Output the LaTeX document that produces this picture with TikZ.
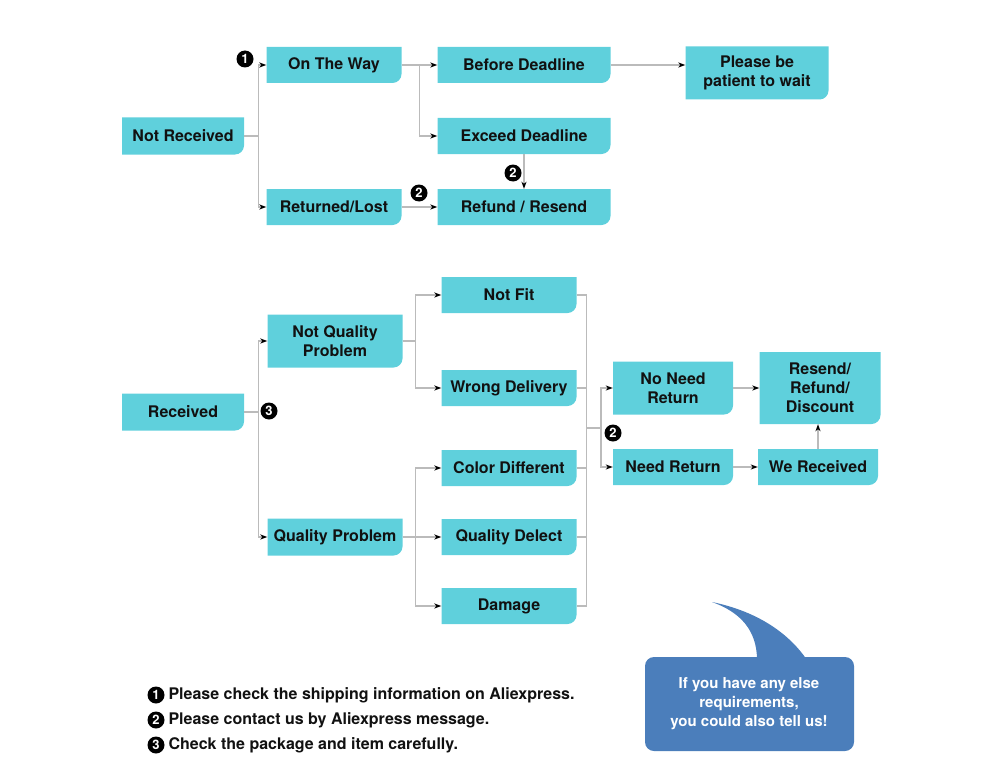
\documentclass[tikz,border=0pt]{standalone}
\usepackage{fontspec}
\setmainfont{TeX Gyre Heros}
\usetikzlibrary{arrows.meta}
\definecolor{boxcyan}{HTML}{5FD0DC}
\definecolor{bubbleblue}{HTML}{4B7EBB}
\definecolor{linegray}{HTML}{BBBBBB}
\definecolor{inkblack}{HTML}{111111}
\tikzset{
  box/.style={minimum width=135pt, minimum height=36pt, inner sep=0pt, align=center,
    text=inkblack, font=\fontsize{16}{19}\selectfont\bfseries,
    path picture={\fill[boxcyan] (path picture bounding box.north west)
      -- (path picture bounding box.north east)
      -- ([yshift=9pt]path picture bounding box.south east)
      arc[start angle=0,end angle=-90,radius=9pt]
      -- (path picture bounding box.south west) -- cycle;}},
  link/.style={draw=linegray, line width=1.1pt},
  arr/.style={link, -{Stealth[color=black,length=7pt,width=5pt,inset=2pt]}},
  badge/.style={circle, fill=black, text=white, inner sep=0pt, minimum size=17pt,
    font=\fontsize{13}{13}\selectfont\bfseries},
  note/.style={anchor=west, text=inkblack, font=\fontsize{16}{19}\selectfont\bfseries},
}
\begin{document}
\begin{tikzpicture}[x=1pt,y=-1pt]
        \useasboundingbox (0,0) rectangle (1000,781);
        %% Not received
        \node[box, minimum width=122pt, minimum height=37pt] (nr) at (183,136) {Not Received};
        \node[box] (otw) at (334,65) {On The Way};
        \node[box] (rl) at (334,207) {Returned/Lost};
        \node[box, minimum width=173pt] (bd) at (524,65) {Before Deadline};
        \node[box, minimum width=173pt] (ed) at (524,136) {Exceed Deadline};
        \node[box, minimum width=173pt] (rr) at (524,207) {Refund / Resend};
        \node[box, minimum width=143pt, minimum height=53pt] (pw) at (757,73) {Please be\\patient to wait};
        \draw[arr] (nr.east) -- ++(14,0) |- (otw.west);
        \draw[arr] (nr.east) -- ++(14,0) |- (rl.west);
        \draw[arr] (otw.east) -- ++(18,0) |- (bd.west);
        \draw[arr] (otw.east) -- ++(18,0) |- (ed.west);
        \draw[arr] (bd.east) -- (bd.east -| pw.west);
        \draw[arr] (ed.south) -- (rr.north);
        \draw[arr] (rl.east) -- (rr.west);
        \node[badge] (b1) at (245,59) {1};
        \node[badge] (b2a) at (419,193) {2};
        \node[badge] (b2b) at (513,173) {2};
        %% Received
        \node[box, minimum width=122pt, minimum height=37pt] (rc) at (183,412) {Received};
        \node[box, minimum height=53pt] (nqp) at (335,341) {Not Quality\\Problem};
        \node[box, minimum height=37pt] (qp) at (335,537) {Quality Problem};
        \node[box] (nf) at (509,295) {Not Fit};
        \node[box] (wd) at (509,388) {Wrong Delivery};
        \node[box] (cd) at (509,468) {Color Different};
        \node[box] (qd) at (509,537) {Quality Delect};
        \node[box] (dm) at (509,606) {Damage};
        \node[box, minimum width=120pt, minimum height=53pt] (nnr) at (673,388) {No Need\\Return};
        \node[box, minimum width=120pt] (ndr) at (673,467) {Need Return};
        \node[box, minimum width=121pt, minimum height=72pt] (rrd) at (820,388) {Resend/\\Refund/\\Discount};
        \node[box, minimum width=120pt] (wr) at (818,467) {We Received};
        \draw[arr] (rc.east) -- ++(14,0) |- (nqp.west);
        \draw[arr] (rc.east) -- ++(14,0) |- (qp.west);
        \draw[arr] (nqp.east) -- ++(13,0) |- (nf.west);
        \draw[arr] (nqp.east) -- ++(13,0) |- (wd.west);
        \draw[arr] (qp.east) -- ++(13,0) |- (cd.west);
        \draw[arr] (qp.east) -- ++(13,0) |- (qd.west);
        \draw[arr] (qp.east) -- ++(13,0) |- (dm.west);
        \draw[link] (nf.east) -- ++(10,0) |- (dm.east);
        \foreach \n in {wd,cd,qd}
            \draw[link] (\n.east) -- ++(10,0);
        \coordinate (join) at (587,428);
        \draw[arr] (join) -- ++(14,0) |- (nnr.west);
        \draw[arr] (join) -- ++(14,0) |- (ndr.west);
        \draw[arr] (nnr.east) -- (nnr.east -| rrd.west);
        \draw[arr] (ndr.east) -- (wr.west);
        \draw[arr] (wr.north) -- (wr.north |- rrd.south);
        \node[badge] (b3) at (269,411) {3};
        \node[badge] (b2c) at (613,433) {2};
        %% Notes
        \node[badge] (f1) at (156,695) {1};
        \node[note] (n1) at (165,695) {Please check the shipping information on Aliexpress.};
        \node[badge] (f2) at (156,720) {2};
        \node[note] (n2) at (165,720) {Please contact us by Aliexpress message.};
        \node[badge] (f3) at (156,745) {3};
        \node[note] (n3) at (165,745) {Check the package and item carefully.};
        %% Speech bubble
        \fill[bubbleblue, rounded corners=9pt] (645,657) rectangle (854,751);
        \fill[bubbleblue] (712,602) .. controls (740,612) and (757,630) .. (757,660)
            -- (807,660) .. controls (790,635) and (760,612) .. (712,602) -- cycle;
        \node[align=center, text=white, font=\fontsize{15}{19}\selectfont\bfseries] (bt) at (749,704)
            {If you have any else\\requirements,\\you could also tell us!};
    \end{tikzpicture}
\end{document}
